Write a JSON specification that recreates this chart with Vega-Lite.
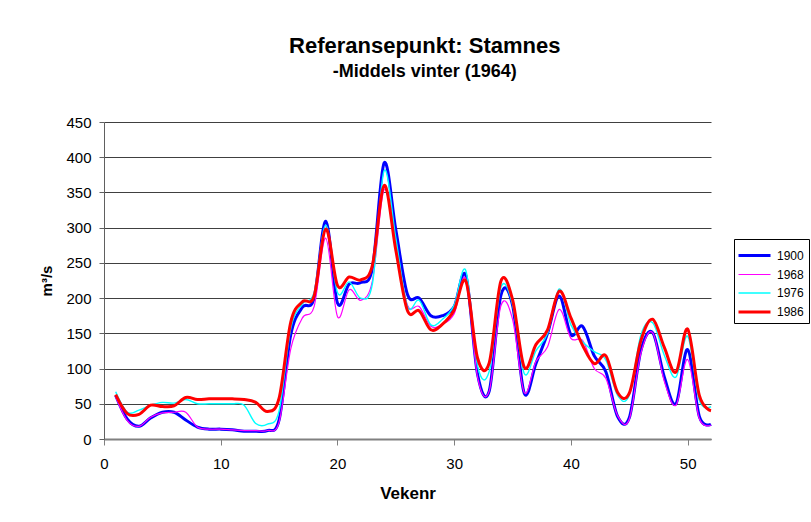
{
  "$schema": "https://vega.github.io/schema/vega-lite/v6.json",
  "width": 607,
  "height": 317,
  "autosize": {"type": "none"},
  "padding": {"left": 104, "top": 122, "right": 100, "bottom": 83},
  "background": "white",
  "config": {"view": {"stroke": null}, "font": "Liberation Sans"},
  "title": {
    "text": "Referansepunkt: Stamnes",
    "subtitle": "-Middels vinter (1964)",
    "font": "Liberation Sans",
    "subtitleFont": "Liberation Sans",
    "fontSize": 22,
    "fontWeight": "bold",
    "subtitleFontSize": 18,
    "subtitleFontWeight": "bold",
    "color": "black",
    "subtitleColor": "black",
    "anchor": "middle",
    "frame": "bounds",
    "offset": 33,
    "subtitlePadding": 5
  },
  "data": {
    "values": [
      {"week": 1, "1900": 62, "1968": 60, "1976": 67, "1986": 63},
      {"week": 2, "1900": 28, "1968": 26, "1976": 38, "1986": 36},
      {"week": 3, "1900": 18, "1968": 18, "1976": 41, "1986": 35},
      {"week": 4, "1900": 30, "1968": 31, "1976": 48, "1986": 48},
      {"week": 5, "1900": 38, "1968": 37, "1976": 52, "1986": 46},
      {"week": 6, "1900": 38, "1968": 38, "1976": 51, "1986": 47},
      {"week": 7, "1900": 27, "1968": 38, "1976": 56, "1986": 59},
      {"week": 8, "1900": 17, "1968": 17, "1976": 50, "1986": 56},
      {"week": 9, "1900": 14, "1968": 14, "1976": 50, "1986": 57},
      {"week": 10, "1900": 14, "1968": 14, "1976": 50, "1986": 57},
      {"week": 11, "1900": 13, "1968": 13, "1976": 50, "1986": 57},
      {"week": 12, "1900": 11, "1968": 12, "1976": 48, "1986": 56},
      {"week": 13, "1900": 11, "1968": 12, "1976": 22, "1986": 52},
      {"week": 14, "1900": 12, "1968": 12, "1976": 21, "1986": 39},
      {"week": 15, "1900": 27, "1968": 24, "1976": 40, "1986": 58},
      {"week": 16, "1900": 148, "1968": 128, "1976": 157, "1986": 166},
      {"week": 17, "1900": 187, "1968": 172, "1976": 192, "1986": 195},
      {"week": 18, "1900": 200, "1968": 188, "1976": 208, "1986": 203},
      {"week": 19, "1900": 309, "1968": 285, "1976": 304, "1986": 298},
      {"week": 20, "1900": 193, "1968": 174, "1976": 208, "1986": 218},
      {"week": 21, "1900": 220, "1968": 212, "1976": 223, "1986": 230},
      {"week": 22, "1900": 222, "1968": 197, "1976": 200, "1986": 226},
      {"week": 23, "1900": 243, "1968": 225, "1976": 221, "1986": 247},
      {"week": 24, "1900": 392, "1968": 354, "1976": 381, "1986": 360},
      {"week": 25, "1900": 297, "1968": 273, "1976": 285, "1986": 268},
      {"week": 26, "1900": 205, "1968": 190, "1976": 188, "1986": 182},
      {"week": 27, "1900": 200, "1968": 188, "1976": 197, "1986": 182},
      {"week": 28, "1900": 175, "1968": 160, "1976": 162, "1986": 155},
      {"week": 29, "1900": 175, "1968": 163, "1976": 170, "1986": 163},
      {"week": 30, "1900": 188, "1968": 178, "1976": 190, "1986": 183},
      {"week": 31, "1900": 232, "1968": 227, "1976": 239, "1986": 224},
      {"week": 32, "1900": 92, "1968": 88, "1976": 104, "1986": 115},
      {"week": 33, "1900": 68, "1968": 68, "1976": 96, "1986": 108},
      {"week": 34, "1900": 204, "1968": 189, "1976": 215, "1986": 224},
      {"week": 35, "1900": 190, "1968": 170, "1976": 191, "1986": 198},
      {"week": 36, "1900": 65, "1968": 66, "1976": 93, "1986": 102},
      {"week": 37, "1900": 107, "1968": 110, "1976": 125, "1986": 134},
      {"week": 38, "1900": 150, "1968": 131, "1976": 150, "1986": 155},
      {"week": 39, "1900": 203, "1968": 184, "1976": 213, "1986": 210},
      {"week": 40, "1900": 148, "1968": 143, "1976": 162, "1986": 172},
      {"week": 41, "1900": 160, "1968": 140, "1976": 138, "1986": 133},
      {"week": 42, "1900": 118, "1968": 100, "1976": 124, "1986": 107},
      {"week": 43, "1900": 95, "1968": 86, "1976": 112, "1986": 118},
      {"week": 44, "1900": 32, "1968": 33, "1976": 62, "1986": 66},
      {"week": 45, "1900": 30, "1968": 28, "1976": 62, "1986": 65},
      {"week": 46, "1900": 126, "1968": 122, "1976": 148, "1986": 140},
      {"week": 47, "1900": 151, "1968": 151, "1976": 165, "1986": 170},
      {"week": 48, "1900": 88, "1968": 82, "1976": 119, "1986": 130},
      {"week": 49, "1900": 50, "1968": 48, "1976": 88, "1986": 95},
      {"week": 50, "1900": 127, "1968": 113, "1976": 146, "1986": 156},
      {"week": 51, "1900": 32, "1968": 29, "1976": 55, "1986": 62},
      {"week": 52, "1900": 21, "1968": 20, "1976": 46, "1986": 40}
    ]
  },
  "transform": [
    {"fold": ["1900", "1968", "1976", "1986"], "as": ["year", "q"]}
  ],
  "mark": {"type": "line", "interpolate": "cardinal"},
  "encoding": {
    "x": {
      "field": "week",
      "type": "quantitative",
      "scale": {"domain": [0, 52], "nice": false, "zero": false},
      "axis": {
        "values": [0, 10, 20, 30, 40, 50],
        "grid": false,
        "title": "Vekenr",
        "titleFontSize": 17,
        "titleFontWeight": "bold",
        "titleColor": "black",
        "titlePadding": 14,
        "labelFontSize": 15,
        "labelColor": "black",
        "labelPadding": 11,
        "labelFlush": false,
        "domainColor": "#808080",
        "domainWidth": 2,
        "tickColor": "#808080",
        "tickSize": 6,
        "tickWidth": 1
      }
    },
    "y": {
      "field": "q",
      "type": "quantitative",
      "scale": {"domain": [0, 450], "nice": false},
      "axis": {
        "values": [0, 50, 100, 150, 200, 250, 300, 350, 400, 450],
        "grid": true,
        "gridColor": "#404040",
        "gridWidth": 1,
        "title": "m³/s",
        "titleFontSize": 15,
        "titleFontWeight": "bold",
        "titleColor": "black",
        "titlePadding": 11,
        "labelFontSize": 15,
        "labelColor": "black",
        "labelPadding": 8,
        "domainColor": "#606060",
        "tickColor": "#606060",
        "tickSize": 5
      }
    },
    "color": {
      "field": "year",
      "type": "nominal",
      "scale": {"domain": ["1900", "1968", "1976", "1986"], "range": ["#0000FF", "#FF00FF", "#00FFFF", "#FF0000"]},
      "legend": {
        "title": null,
        "orient": "none",
        "legendX": 630,
        "legendY": 117,
        "strokeColor": "black",
        "fillColor": "white",
        "padding": 5,
        "symbolType": "M-1.2,0H2.0",
        "symbolSize": 400,
        "labelFontSize": 12,
        "labelColor": "black",
        "labelOffset": 15,
        "rowPadding": 1.5
      }
    },
    "strokeWidth": {
      "field": "year",
      "type": "nominal",
      "scale": {"type": "ordinal", "domain": ["1900", "1968", "1976", "1986"], "range": [3, 1.2, 1.4, 3]},
      "legend": {
        "title": null,
        "orient": "none",
        "legendX": 630,
        "legendY": 117,
        "strokeColor": "black",
        "fillColor": "white",
        "padding": 5,
        "symbolType": "M-1.2,0H2.0",
        "symbolSize": 400,
        "labelFontSize": 12,
        "labelColor": "black",
        "labelOffset": 15,
        "rowPadding": 1.5
      }
    }
  }
}
